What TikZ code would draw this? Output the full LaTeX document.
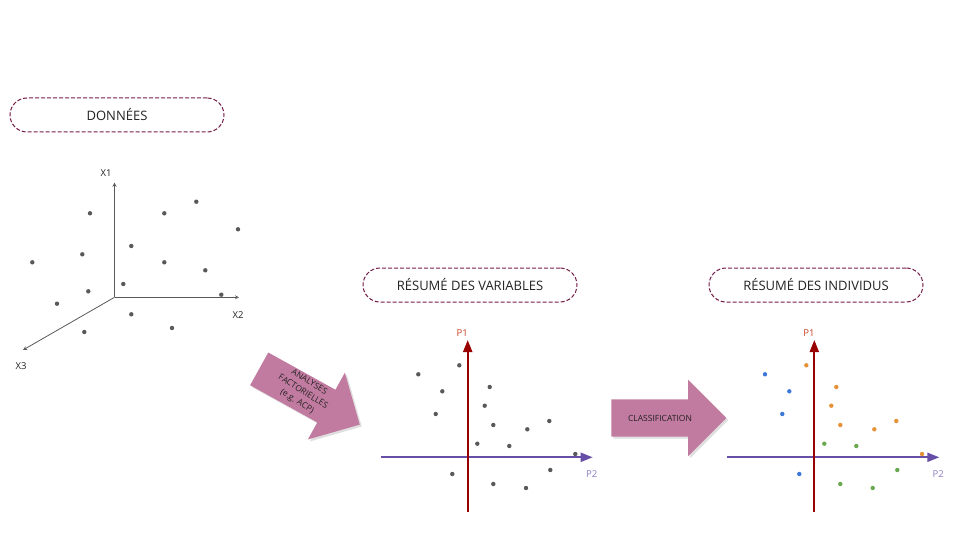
\documentclass[tikz,border=0pt]{standalone}
\usepackage{fontspec}
\setmainfont{Open Sans}
\usepackage{tikz}
\usetikzlibrary{shapes, arrows, arrows.meta, calc, positioning, shadows}

\definecolor{boxline}{HTML}{741B47}
\definecolor{pinkarrow}{HTML}{C27BA0}
\definecolor{txt}{HTML}{222222}
\definecolor{dotgray}{HTML}{595959}
\definecolor{pone}{HTML}{990000}
\definecolor{ponetxt}{HTML}{CC4125}
\definecolor{ptwo}{HTML}{674EA7}
\definecolor{ptwotxt}{HTML}{8E7CC3}
\definecolor{cblue}{HTML}{3C78D8}
\definecolor{corange}{HTML}{E69138}
\definecolor{cgreen}{HTML}{6AA84F}

\begin{document}
\begin{tikzpicture}[x=1pt, y=-1pt, >=stealth]
    \tikzstyle{headbox} = [draw=boxline, line width=1pt, dash pattern=on 4pt off 2pt, rounded corners=17pt,
	minimum width=214pt, minimum height=34pt, text=txt, font=\fontsize{13}{15}\selectfont]
    \tikzstyle{axislabel} = [inner sep=0pt, font=\fontsize{9.5}{11}\selectfont]
    \tikzstyle{bigarrow} = [single arrow, fill=pinkarrow, inner xsep=0pt, inner ysep=18.5pt,
	minimum height=115pt, single arrow head extend=19.5pt,
	drop shadow={opacity=0.25, shadow xshift=2pt, shadow yshift=-2pt}]
    \tikzstyle{arrowtext} = [align=center, text=txt, inner sep=0pt, font=\fontsize{8.5}{11.5}\selectfont]
    \tikzstyle{thinaxis} = [->, draw=dotgray, line width=0.8pt]
    \tikzstyle{pone axis} = [-{Triangle[length=12pt, width=9pt]}, draw=pone, line width=2pt]
    \tikzstyle{ptwo axis} = [-{Triangle[length=12pt, width=9pt]}, draw=ptwo, line width=2pt]

    \useasboundingbox (0,0) rectangle (960,540);

    \path
        node[headbox] (donnees) at (117,115) {DONNÉES}
        node[headbox] (variables) at (470,285) {RÉSUMÉ DES VARIABLES}
        node[headbox] (individus) at (816,285) {RÉSUMÉ DES INDIVIDUS}

        node[bigarrow, rotate=-29] (afc) at (301.3,392.2) {}
        node[arrowtext, rotate=-32] (afctext) at (303,392) {ANALYSES\\FACTORIELLES\\(e.g. ACP)}
        node[bigarrow] (classif) at (659.5,418) {}
        node[arrowtext] (classiftext) at (660,418) {CLASSIFICATION}
    ;

    \coordinate (o3) at (114.5,297.3);
    \coordinate (x1) at (114.5,182.7);
    \coordinate (x2) at (239,297.3);
    \coordinate (x3) at (23,350);
    \draw[thinaxis] (o3) -- (x1);
    \draw[thinaxis] (o3) -- (x2);
    \draw[thinaxis] (o3) -- (x3);
    \node[axislabel, text=txt] (lx1) at (106,173) {X1};
    \node[axislabel, text=txt] (lx2) at (238,315.5) {X2};
    \node[axislabel, text=txt] (lx3) at (21,366) {X3};

    \foreach \px/\py in {90/213.3, 164.3/213.3, 196.3/201.7, 238/229.3, 32.3/262.3,
        82.3/254.3, 131.3/246, 164.3/262.3, 205.3/270.3, 88.3/291.3, 123.3/284,
        221.3/294.7, 57/303.7, 131.3/314.3, 172/328, 84.3/332}
        \fill[dotgray] (\px,\py) circle (2.2pt);

    \foreach \dx/\name in {0/v, 346.6/i} {
        \coordinate (\name pbot) at (467.7+\dx,511.7);
        \coordinate (\name ptop) at (467.7+\dx,340);
        \coordinate (\name pleft) at (380.7+\dx,457.3);
        \coordinate (\name pright) at (592.7+\dx,457.3);
        \draw[ptwo axis] (\name pleft) -- (\name pright);
        \draw[pone axis] (\name pbot) -- (\name ptop);
        \node[axislabel, text=ponetxt] (\name lpone) at (462.3+\dx,332.7) {P1};
        \node[axislabel, text=ptwotxt] (\name lptwo) at (591.7+\dx,474) {P2};
    }

    \foreach \px/\py in {418.3/374.3, 459.3/365.3, 442.3/391.3, 489.7/387, 484.7/405.7,
        435.7/414, 493.3/425, 527.3/429.3, 549.3/421, 477.3/443.7, 509.3/446,
        575.3/454, 452.3/474, 550.3/470, 493.3/484, 526/488}
        \fill[dotgray] (\px,\py) circle (2.2pt);

    \foreach \px/\py/\c in {765/374.3/cblue, 789.3/391.3/cblue, 782.3/414/cblue, 799.3/474/cblue,
        806.3/365.3/corange, 836.3/387/corange, 831.3/405.7/corange, 840.3/425/corange,
        874.3/429.3/corange, 896.3/421/corange, 922/454/corange,
        824.3/443.7/cgreen, 856.3/446/cgreen, 897.3/470/cgreen, 840.3/484/cgreen, 872.7/488/cgreen}
        \fill[\c] (\px,\py) circle (2.2pt);
\end{tikzpicture}
\end{document}
